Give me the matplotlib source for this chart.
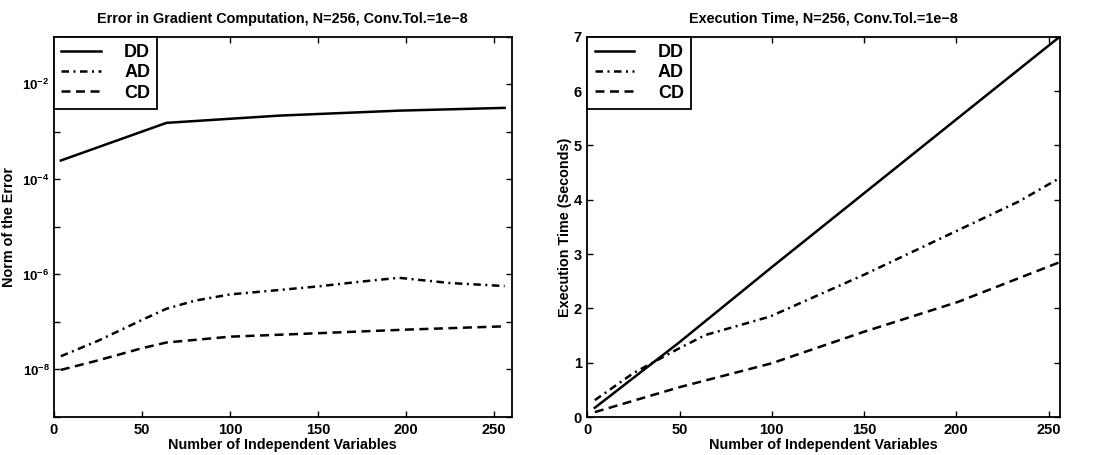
import math
import matplotlib
matplotlib.use("Agg")
import matplotlib.pyplot as plt
from matplotlib.ticker import FixedLocator, NullLocator, FuncFormatter

plt.rcParams['font.family'] = ['Liberation Sans', 'DejaVu Sans']
plt.rcParams['font.weight'] = 'bold'
plt.rcParams['mathtext.fontset'] = 'custom'
plt.rcParams['mathtext.bf'] = 'Liberation Sans:bold'
plt.rcParams['mathtext.rm'] = 'Liberation Sans:bold'

# ---- Left panel: error in gradient ----
x_err_dd = [4, 64, 128, 196, 256]
err_dd = [2.5e-4, 1.55e-3, 2.2e-3, 2.8e-3, 3.2e-3]

x_err_ad = [4, 25, 50, 64, 80, 100, 125, 150, 175, 196, 225, 256]
err_ad = [1.9e-8, 4.0e-8, 1.1e-7, 1.9e-7, 2.8e-7, 3.8e-7, 4.6e-7, 5.6e-7, 7.1e-7, 8.5e-7, 6.6e-7, 5.7e-7]

x_err_cd = [4, 25, 50, 64, 100, 150, 200, 256]
err_cd = [0.98e-8, 1.55e-8, 2.8e-8, 3.7e-8, 4.9e-8, 5.8e-8, 6.9e-8, 8.1e-8]

# ---- Right panel: execution time ----
x_time_dd = [4, 50, 100, 150, 200, 256]
time_dd = [0.17, 1.38, 2.76, 4.12, 5.48, 7.0]

x_time_ad = [4, 25, 50, 64, 99, 150, 201, 234, 256]
time_ad = [0.31, 0.81, 1.27, 1.51, 1.85, 2.62, 3.44, 3.97, 4.40]

x_time_cd = [4, 50, 100, 150, 201, 256]
time_cd = [0.09, 0.55, 0.99, 1.57, 2.12, 2.85]

labels = ['DD', 'AD', 'CD']
x_ticks = [0, 50, 100, 150, 200, 250]

fig = plt.figure(figsize=(10.98, 4.55), dpi=100)
ax1 = fig.add_axes([0.049, 0.0835, 0.417, 0.8355])
ax2 = fig.add_axes([0.535, 0.0835, 0.430, 0.8355])

lw = 1.8
styles = [dict(linestyle='-'),
          dict(linestyle=(0, (3.0, 1.8, 0.8, 1.8))),
          dict(linestyle=(0, (3.6, 2.2)))]

ax1.plot(x_err_dd, err_dd, color='black', lw=lw, label=labels[0], **styles[0])
ax1.plot(x_err_ad, err_ad, color='black', lw=lw, label=labels[1], **styles[1])
ax1.plot(x_err_cd, err_cd, color='black', lw=lw, label=labels[2], **styles[2])
ax1.set_yscale('log')
ax1.set_ylim(1e-9, 1e-1)
ax1.set_xlim(0, 260)
ax1.yaxis.set_major_locator(FixedLocator([10.0**k for k in range(-9, 0)]))
ax1.yaxis.set_minor_locator(NullLocator())


def logfmt(v, pos):
    k = int(round(math.log10(v)))
    if k % 2 == 0:
        return r'$\mathbf{10^{%d}}$' % k
    return ''


ax1.yaxis.set_major_formatter(FuncFormatter(logfmt))
ax1.set_title('Error in Gradient Computation, N=256, Conv.Tol.=1e\u22128',
              fontsize=10.4, fontweight='bold', pad=10)
ax1.set_xlabel('Number of Independent Variables', fontsize=10.4, fontweight='bold', labelpad=1)
ax1.set_ylabel('Norm of the Error', fontsize=10.4, fontweight='bold')
ax1.yaxis.set_label_coords(-0.082, 0.5)

ax2.plot(x_time_dd, time_dd, color='black', lw=lw, label=labels[0], **styles[0])
ax2.plot(x_time_ad, time_ad, color='black', lw=lw, label=labels[1], **styles[1])
ax2.plot(x_time_cd, time_cd, color='black', lw=lw, label=labels[2], **styles[2])
ax2.set_xlim(0, 256)
ax2.set_ylim(0, 7)
ax2.set_yticks(range(0, 8))
ax2.set_title('Execution Time, N=256, Conv.Tol.=1e\u22128',
              fontsize=10.4, fontweight='bold', pad=10)
ax2.set_xlabel('Number of Independent Variables', fontsize=10.4, fontweight='bold', labelpad=1)
ax2.set_ylabel('Execution Time (Seconds)', fontsize=10.4, fontweight='bold')
ax2.yaxis.set_label_coords(-0.033, 0.5)

for ax in (ax1, ax2):
    ax.set_xticks(x_ticks)
    ax.tick_params(direction='in', top=True, right=True, length=4, width=1,
                   labelsize=10.5, pad=4)
    for s in ax.spines.values():
        s.set_linewidth(1.3)
    leg = ax.legend(loc='upper left', fontsize=13, handlelength=2.2, handletextpad=1.3,
                    borderaxespad=0, borderpad=0.4, labelspacing=0.18, fancybox=False,
                    framealpha=1, edgecolor='black')
    leg.get_frame().set_linewidth(1.3)
    for t in leg.get_texts():
        t.set_fontweight('bold')

ax1.tick_params(axis='y', labelsize=9.5, pad=3)
for ax in (ax1, ax2):
    for lab in ax.get_xticklabels() + ax.get_yticklabels():
        lab.set_fontweight('bold')

fig.savefig('out.png', dpi=100)
